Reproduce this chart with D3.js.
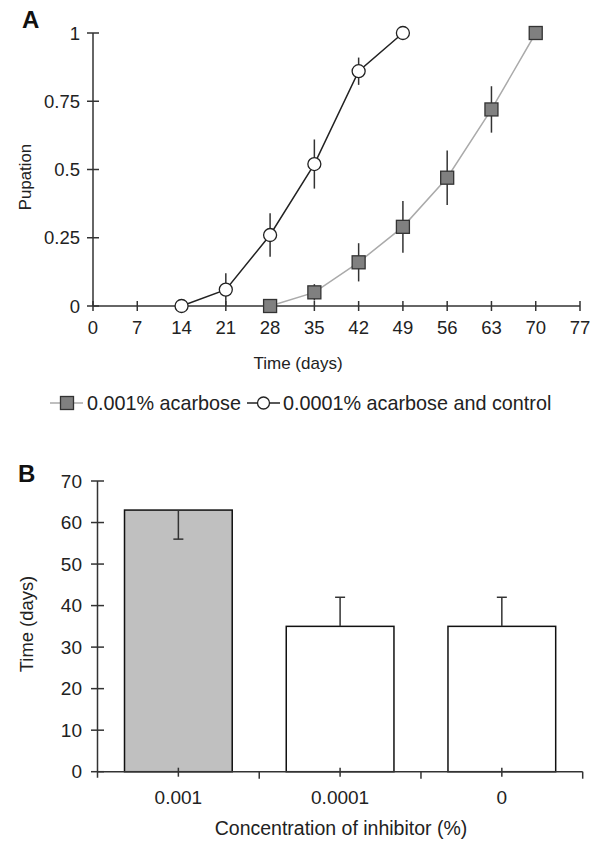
<!DOCTYPE html>
<html><head><meta charset="utf-8">
<script src="https://cdn.jsdelivr.net/npm/d3@7"></script>
<style>
body{margin:0;background:#fff;}
text{font-family:"Liberation Sans",Arial,sans-serif;fill:#222;}
</style></head>
<body><svg id="c" width="593" height="842"></svg>
<script>
// Panel A data
const days = [0,7,14,21,28,35,42,49,56,63,70,77];
const pupTicks = [0,0.25,0.5,0.75,1];
const acarboseDays = [28,35,42,49,56,63,70];
const acarboseVals = [0,0.05,0.16,0.29,0.47,0.72,1];
const acarboseErr  = [0,0.03,0.07,0.095,0.10,0.085,0];
const controlDays = [14,21,28,35,42,49];
const controlVals = [0,0.06,0.26,0.52,0.86,1];
const controlErr  = [0,0.06,0.08,0.09,0.05,0];
// Panel B data
const concCats = ["0.001","0.0001","0"];
const timeVals = [63,35,35];
const timeErr  = [7,7,7];
const timeTicks = [0,10,20,30,40,50,60,70];

const svg = d3.select("#c");
const axisCol = "#333";

// ---------- Panel A ----------
const xA = d3.scaleLinear().domain([0,77]).range([93,580]);
const yA = d3.scaleLinear().domain([0,1]).range([306,33]);
const gA = svg.append("g");

gA.append("line").attr("x1",xA(0)).attr("x2",xA(77)).attr("y1",yA(0)).attr("y2",yA(0)).attr("stroke",axisCol).attr("stroke-width",1.5);
gA.append("line").attr("x1",xA(0)).attr("x2",xA(0)).attr("y1",yA(0)).attr("y2",yA(1)).attr("stroke",axisCol).attr("stroke-width",1.5);
gA.selectAll(".xt").data(days).join("line").attr("x1",d=>xA(d)).attr("x2",d=>xA(d)).attr("y1",yA(0)-5).attr("y2",yA(0)+5).attr("stroke",axisCol).attr("stroke-width",1.5);
gA.selectAll(".yt").data(pupTicks).join("line").attr("x1",xA(0)-6).attr("x2",xA(0)+6).attr("y1",d=>yA(d)).attr("y2",d=>yA(d)).attr("stroke",axisCol).attr("stroke-width",1.5);
gA.selectAll(".xl").data(days).join("text").attr("x",d=>xA(d)).attr("y",334).attr("text-anchor","middle").attr("font-size",18.5).text(d=>d);
gA.selectAll(".yl").data(pupTicks).join("text").attr("x",80).attr("y",d=>yA(d)+6.5).attr("text-anchor","end").attr("font-size",18.5).text(d=>d);
gA.append("text").attr("x",298).attr("y",369).attr("text-anchor","middle").attr("font-size",17).text("Time (days)");
gA.append("text").attr("transform","translate(31,177) rotate(-90)").attr("text-anchor","middle").attr("font-size",16.8).text("Pupation");
svg.append("text").attr("x",22).attr("y",28).attr("font-size",24).attr("font-weight","bold").style("fill","#111").text("A");

const acData = acarboseDays.map((d,i)=>({x:d,y:acarboseVals[i],e:acarboseErr[i]}));
const ctData = controlDays.map((d,i)=>({x:d,y:controlVals[i],e:controlErr[i]}));
const line = d3.line().x(d=>xA(d.x)).y(d=>yA(d.y));
gA.append("path").datum(acData).attr("d",line).attr("fill","none").attr("stroke","#aaa").attr("stroke-width",1.5);
gA.selectAll(".ae").data(acData.filter(d=>d.e>0)).join("line").attr("x1",d=>xA(d.x)).attr("x2",d=>xA(d.x)).attr("y1",d=>yA(d.y+d.e)).attr("y2",d=>yA(d.y-d.e)).attr("stroke","#333").attr("stroke-width",1.5);
gA.append("path").datum(ctData).attr("d",line).attr("fill","none").attr("stroke","#222").attr("stroke-width",1.5);
gA.selectAll(".ce").data(ctData.filter(d=>d.e>0)).join("line").attr("x1",d=>xA(d.x)).attr("x2",d=>xA(d.x)).attr("y1",d=>yA(d.y+d.e)).attr("y2",d=>yA(Math.max(d.y-d.e,-0.02))).attr("stroke","#333").attr("stroke-width",1.5);
gA.selectAll(".sq").data(acData).join("rect").attr("x",d=>xA(d.x)-6.5).attr("y",d=>yA(d.y)-6.5).attr("width",13).attr("height",13).attr("fill","#808080").attr("stroke","#333").attr("stroke-width",1.3);
gA.selectAll(".ci").data(ctData).join("circle").attr("cx",d=>xA(d.x)).attr("cy",d=>yA(d.y)).attr("r",6.5).attr("fill","#fff").attr("stroke","#222").attr("stroke-width",1.3);

// legend
const lg = svg.append("g");
lg.append("line").attr("x1",50).attr("x2",83).attr("y1",403).attr("y2",403).attr("stroke","#aaa").attr("stroke-width",1.5);
lg.append("rect").attr("x",67-6.5).attr("y",403-6.5).attr("width",13).attr("height",13).attr("fill","#808080").attr("stroke","#333").attr("stroke-width",1.3);
lg.append("text").attr("x",87).attr("y",410).attr("font-size",19.8).text("0.001% acarbose");
lg.append("line").attr("x1",247).attr("x2",280).attr("y1",403).attr("y2",403).attr("stroke","#222").attr("stroke-width",1.5);
lg.append("circle").attr("cx",263.5).attr("cy",403).attr("r",6).attr("fill","#fff").attr("stroke","#222").attr("stroke-width",1.3);
lg.append("text").attr("x",283).attr("y",410).attr("font-size",19.8).text("0.0001% acarbose and control");

// ---------- Panel B ----------
const xB = d3.scaleBand().domain(concCats).range([97.5,582.7]).paddingInner(0.334).paddingOuter(0.167);
const yB = d3.scaleLinear().domain([0,70]).range([771.7,481]);
const gB = svg.append("g");
const outer = xB.step();
gB.selectAll(".bar").data(concCats).join("rect")
  .attr("x",d=>xB(d)).attr("y",(d,i)=>yB(timeVals[i])).attr("width",xB.bandwidth()).attr("height",(d,i)=>yB(0)-yB(timeVals[i]))
  .attr("fill",(d,i)=>i===0?"#c0c0c0":"#fff").attr("stroke","#111").attr("stroke-width",1.5);
gB.selectAll(".eb").data(concCats).join("g").each(function(d,i){
  const g=d3.select(this), cx=xB(d)+xB.bandwidth()/2;
  const end = i===0 ? timeVals[i]-timeErr[i] : timeVals[i]+timeErr[i];
  g.append("line").attr("x1",cx).attr("x2",cx).attr("y1",yB(timeVals[i])).attr("y2",yB(end)).attr("stroke","#333").attr("stroke-width",1.5);
  g.append("line").attr("x1",cx-5).attr("x2",cx+5).attr("y1",yB(end)).attr("y2",yB(end)).attr("stroke","#333").attr("stroke-width",1.5);
});
gB.append("line").attr("x1",97.5).attr("x2",582.7).attr("y1",yB(0)).attr("y2",yB(0)).attr("stroke",axisCol).attr("stroke-width",1.5);
gB.append("line").attr("x1",97.5).attr("x2",97.5).attr("y1",yB(0)+6).attr("y2",yB(70)).attr("stroke",axisCol).attr("stroke-width",1.5);
gB.selectAll(".yt").data(timeTicks).join("line").attr("x1",91).attr("x2",104).attr("y1",d=>yB(d)).attr("y2",d=>yB(d)).attr("stroke",axisCol).attr("stroke-width",1.5);
gB.selectAll(".ct").data(concCats).join("line").attr("x1",d=>xB(d)+xB.bandwidth()/2).attr("x2",d=>xB(d)+xB.bandwidth()/2).attr("y1",yB(0)-4).attr("y2",yB(0)+5).attr("stroke",axisCol).attr("stroke-width",1.5);
gB.selectAll(".bt").data(concCats).join("line").attr("x1",(d,i)=>97.5+(i+1)*outer).attr("x2",(d,i)=>97.5+(i+1)*outer).attr("y1",yB(0)).attr("y2",yB(0)+7).attr("stroke",axisCol).attr("stroke-width",1.5);
gB.selectAll(".yl").data(timeTicks).join("text").attr("x",82).attr("y",d=>yB(d)+6.5).attr("text-anchor","end").attr("font-size",19).text(d=>d);
gB.selectAll(".xl").data(concCats).join("text").attr("x",d=>xB(d)+xB.bandwidth()/2).attr("y",804).attr("text-anchor","middle").attr("font-size",19).text(d=>d);
gB.append("text").attr("x",341).attr("y",835).attr("text-anchor","middle").attr("font-size",19.5).text("Concentration of inhibitor (%)");
gB.append("text").attr("transform","translate(33,624) rotate(-90)").attr("text-anchor","middle").attr("font-size",18.4).text("Time (days)");
svg.append("text").attr("x",18).attr("y",482).attr("font-size",24).attr("font-weight","bold").style("fill","#111").text("B");
</script></body></html>
